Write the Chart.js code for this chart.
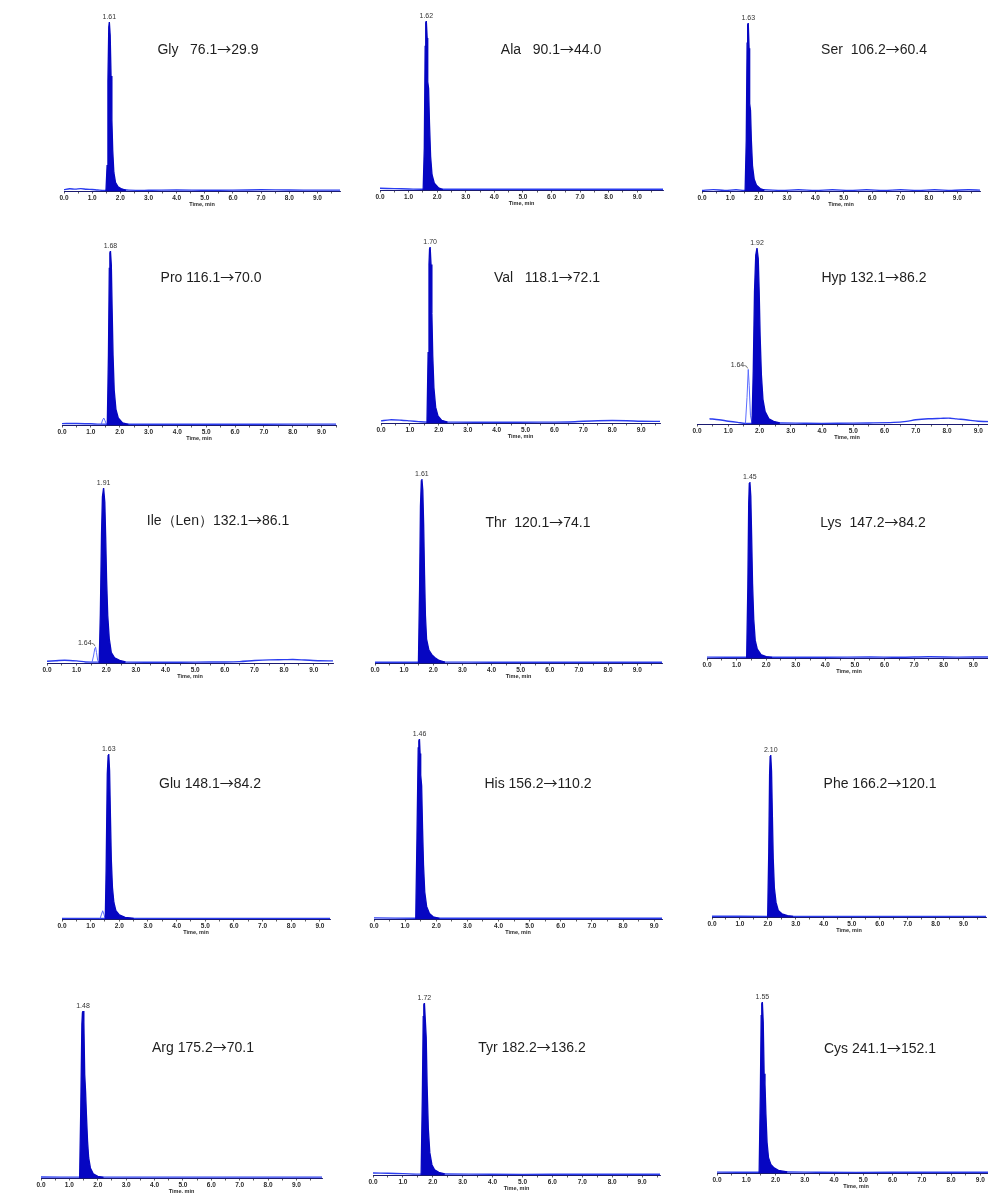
<!DOCTYPE html>
<html>
<head>
<meta charset="utf-8">
<script src="https://cdn.jsdelivr.net/npm/chart.js@4.4.1/dist/chart.umd.min.js"></script>
<style>
  html, body { margin: 0; padding: 0; background: #fff; overflow: hidden; width: 988px; height: 1193px; position: relative; }
  canvas { position: absolute; }
</style>
</head>
<body>
<script>
// ---- Data: MRM chromatograms of 15 amino acids (time in min, intensity in % of the main peak) ----
const tickLabels = ['0.0', '1.0', '2.0', '3.0', '4.0', '5.0', '6.0', '7.0', '8.0', '9.0'];
const compounds = ['Gly', 'Ala', 'Ser', 'Pro', 'Val', 'Hyp', 'Ile（Len）', 'Thr', 'Lys', 'Glu', 'His', 'Phe', 'Arg', 'Tyr', 'Cys'];
const precursorMz = [76.1, 90.1, 106.2, 116.1, 118.1, 132.1, 132.1, 120.1, 147.2, 148.1, 156.2, 166.2, 175.2, 182.2, 241.1];
const productMz = [29.9, 44.0, 60.4, 70.0, 72.1, 86.2, 86.1, 74.1, 84.2, 84.2, 110.2, 120.1, 70.1, 136.2, 152.1];
const retentionTimes = [1.61, 1.62, 1.63, 1.68, 1.70, 1.92, 1.91, 1.61, 1.45, 1.63, 1.46, 2.10, 1.48, 1.72, 1.55];
// labelled minor peaks (null = none labelled)
const minorPeakTimes = [null, null, null, null, null, 1.64, 1.64, null, null, null, null, null, null, null, null];

const GLY_PEAK = [[1.49,0],[1.53,15],[1.56,65],[1.59,97],[1.61,100],[1.64,92],[1.67,68],[1.70,42],[1.73,24],[1.77,11],[1.83,5],[1.92,2.5],[2.05,1.2],[2.20,0.4]];
const GLY_BASE = [[0,0.8],[0.2,1.3],[0.4,1.1],[0.6,1.4],[0.8,1.0],[1.0,0.9],[1.2,0.6],[1.5,0.4],[1.8,1.0],[2.0,0.9],[2.3,0.5],[3.0,0.4],[4.0,0.6],[5.0,0.4],[6.0,0.5],[7.0,0.7],[8.0,0.6],[9.0,0.5],[9.8,0.5]];

const ALA_PEAK = [[1.51,0],[1.55,25],[1.58,85],[1.60,99],[1.62,100],[1.65,90],[1.67,64],[1.70,60],[1.73,40],[1.77,20],[1.82,9],[1.90,4],[2.05,1.2],[2.20,0.3]];
const ALA_BASE = [[0,1.0],[0.5,0.8],[1.0,0.6],[1.5,0.4],[2.2,0.4],[4.0,0.4],[6.0,0.4],[8.0,0.4],[9.9,0.4]];

const SER_PEAK = [[1.52,0],[1.56,30],[1.59,88],[1.61,99],[1.63,100],[1.66,85],[1.68,52],[1.71,48],[1.74,30],[1.78,15],[1.84,7],[1.92,3.5],[2.05,1.5],[2.20,0.5]];
const SER_BASE = [[0,0.4],[0.4,0.8],[0.8,0.4],[1.2,0.7],[1.5,0.4],[2.2,0.7],[2.8,0.4],[3.4,0.7],[4.0,0.4],[4.6,0.7],[5.2,0.4],[5.8,0.7],[6.4,0.4],[7.0,0.7],[7.6,0.4],[8.2,0.7],[8.8,0.4],[9.4,0.7],[9.8,0.5]];

const PRO_PEAK = [[1.57,0],[1.61,40],[1.64,90],[1.66,99],[1.68,100],[1.71,92],[1.74,65],[1.77,40],[1.81,20],[1.87,9],[1.95,4],[2.10,1.2],[2.30,0.3]];
const PRO_MINOR = [[1.36,0.4],[1.41,3],[1.45,4],[1.49,2.5],[1.54,0.5]];
const PRO_BASE = [[0,0.8],[0.5,0.9],[1.0,0.7],[1.3,0.5],[2.3,0.4],[4.0,0.4],[6.0,0.4],[8.0,0.5],[9.5,0.5]];

const VAL_PEAK = [[1.59,0],[1.63,40],[1.66,90],[1.68,99],[1.70,100],[1.73,90],[1.76,62],[1.79,38],[1.83,20],[1.89,9],[1.97,4],[2.10,1.5],[2.30,0.5]];
const VAL_BASE = [[0,1.2],[0.3,1.8],[0.7,1.6],[1.0,1.2],[1.3,0.8],[1.6,0.5],[2.5,0.5],[4.0,0.4],[5.5,0.5],[6.5,0.6],[7.0,1.0],[7.5,1.3],[8.0,1.4],[8.5,1.3],[9.0,1.0],[9.65,0.9]];

const HYP_PEAK = [[1.76,0],[1.80,30],[1.84,75],[1.88,96],[1.92,100],[1.96,94],[1.99,75],[2.02,50],[2.06,28],[2.11,14],[2.18,7],[2.30,3],[2.45,1.5],[2.65,0.6]];
const HYP_MINOR = [[1.55,0.3],[1.60,15],[1.64,31],[1.67,22],[1.71,5],[1.76,0.6],[1.80,0.4]];
const HYP_BASE = [[0.4,3.0],[0.7,2.4],[1.0,1.6],[1.3,0.9],[1.55,0.3],[2.7,0.6],[3.5,0.4],[4.5,0.4],[5.5,0.6],[6.3,0.9],[6.7,1.5],[7.0,2.4],[7.4,3.0],[7.8,3.2],[8.1,3.3],[8.3,2.9],[8.6,2.4],[9.0,1.6],[9.6,1.3]];

const ILE_PEAK = [[1.76,0],[1.80,28],[1.84,74],[1.87,95],[1.91,100],[1.95,92],[1.98,72],[2.01,48],[2.05,27],[2.10,14],[2.17,6],[2.28,3],[2.45,1.5],[2.65,0.6]];
const ILE_MINOR = [[1.52,0.5],[1.57,4],[1.61,8],[1.64,9],[1.67,6],[1.71,1.5],[1.76,0.5]];
const ILE_BASE = [[0,1.0],[0.3,1.3],[0.6,1.6],[1.0,1.2],[1.3,0.6],[1.5,0.5],[2.65,0.5],[4.0,0.4],[5.0,0.5],[6.0,0.6],[6.5,0.8],[7.0,1.4],[7.5,1.8],[8.0,1.9],[8.3,2.0],[8.7,1.7],[9.2,1.3],[9.65,1.2]];

const THR_PEAK = [[1.49,0],[1.53,40],[1.56,85],[1.59,99],[1.61,100],[1.64,94],[1.67,75],[1.70,48],[1.73,26],[1.77,13],[1.85,7],[1.95,4.5],[2.05,3],[2.20,1.4],[2.40,0.5]];
const THR_BASE = [[0,0.4],[1.5,0.4],[2.4,0.5],[4.0,0.4],[6.0,0.4],[8.0,0.4],[9.9,0.4]];

const LYS_PEAK = [[1.34,0],[1.38,40],[1.41,88],[1.43,99],[1.45,100],[1.48,92],[1.51,68],[1.54,42],[1.58,22],[1.63,10],[1.70,5],[1.82,2],[2.00,0.8],[2.20,0.3]];
const LYS_BASE = [[0,0.5],[1.35,0.4],[2.2,0.4],[4.0,0.4],[5.5,0.6],[6.5,0.4],[7.5,0.7],[8.5,0.5],[9.6,0.6]];

const GLU_PEAK = [[1.51,0],[1.54,30],[1.58,88],[1.61,99],[1.63,100],[1.66,90],[1.69,62],[1.72,36],[1.76,19],[1.81,10],[1.88,5],[2.00,2.5],[2.20,1],[2.50,0.4]];
const GLU_MINOR = [[1.33,0.3],[1.38,3],[1.42,5],[1.46,3],[1.50,0.5]];
const GLU_BASE = [[0,0.4],[1.3,0.4],[2.5,0.4],[5.0,0.4],[9.35,0.4]];

const HIS_PEAK = [[1.34,0],[1.38,45],[1.42,95],[1.44,99],[1.46,100],[1.48,92],[1.50,80],[1.53,74],[1.56,50],[1.59,30],[1.63,15],[1.69,7],[1.78,3],[1.90,1.2],[2.10,0.4]];
const HIS_BASE = [[0,0.6],[1.35,0.4],[2.1,0.4],[5.0,0.4],[9.25,0.4]];

const PHE_PEAK = [[1.99,0],[2.03,40],[2.06,88],[2.08,99],[2.10,100],[2.13,90],[2.16,62],[2.19,36],[2.23,18],[2.29,9],[2.37,4],[2.50,2],[2.70,0.8],[2.90,0.3]];
const PHE_BASE = [[0,0.5],[2.0,0.4],[2.9,0.4],[6.0,0.4],[9.8,0.4]];

const ARG_PEAK = [[1.36,0],[1.40,40],[1.44,92],[1.46,99],[1.48,100],[1.51,93],[1.54,62],[1.57,52],[1.60,38],[1.64,22],[1.68,12],[1.74,6],[1.84,2.5],[2.00,1],[2.20,0.4]];
const ARG_BASE = [[0,0.6],[1.37,0.5],[2.2,0.5],[5.0,0.5],[9.9,0.5]];

const TYR_PEAK = [[1.61,0],[1.65,45],[1.68,92],[1.70,99],[1.72,100],[1.75,90],[1.78,80],[1.81,52],[1.85,27],[1.90,13],[1.97,6],[2.06,3],[2.20,1.5],[2.40,0.6]];
const TYR_BASE = [[0,1.2],[0.5,1.0],[1.0,0.8],[1.6,0.5],[2.4,0.6],[4.0,0.4],[6.0,0.4],[9.6,0.4]];

const CYS_PEAK = [[1.44,0],[1.48,45],[1.51,92],[1.53,99],[1.55,100],[1.58,88],[1.61,58],[1.64,52],[1.67,35],[1.71,18],[1.76,9],[1.84,5],[1.95,3],[2.10,1.5],[2.40,0.6]];
const CYS_BASE = [[0,0.5],[1.45,0.4],[2.4,0.6],[3.5,0.4],[6.0,0.4],[9.5,0.4]];

const peakTraces = [GLY_PEAK, ALA_PEAK, SER_PEAK, PRO_PEAK, VAL_PEAK, HYP_PEAK, ILE_PEAK, THR_PEAK, LYS_PEAK, GLU_PEAK, HIS_PEAK, PHE_PEAK, ARG_PEAK, TYR_PEAK, CYS_PEAK];
const baseTraces = [GLY_BASE, ALA_BASE, SER_BASE, PRO_BASE, VAL_BASE, HYP_BASE, ILE_BASE, THR_BASE, LYS_BASE, GLU_BASE, HIS_BASE, PHE_BASE, ARG_BASE, TYR_BASE, CYS_BASE];
const minorTraces = [null, null, null, PRO_MINOR, null, HYP_MINOR, ILE_MINOR, null, null, GLU_MINOR, null, null, null, null, null];

// ---- Layout of each panel on the page (pixels) ----
// x0: page x of t = 0, ppm: pixels per minute, xMax: axis end (min),
// axisY: page y of the time axis, topY: page y of the main peak apex,
// tx/ty: centre of the compound caption, gap: spaces between name and transition
const frames = [
  { x0: 64,  ppm: 28.2, xMax: 9.8,  axisY: 191,  topY: 22,   tx: 208, ty: 49,   gap: 3 },
  { x0: 380, ppm: 28.6, xMax: 9.9,  axisY: 190,  topY: 21,   tx: 551, ty: 49,   gap: 3 },
  { x0: 702, ppm: 28.4, xMax: 9.8,  axisY: 191,  topY: 23,   tx: 874, ty: 49,   gap: 2 },
  { x0: 62,  ppm: 28.8, xMax: 9.5,  axisY: 425,  topY: 251,  tx: 211, ty: 277,  gap: 1 },
  { x0: 381, ppm: 28.9, xMax: 9.65, axisY: 423,  topY: 247,  tx: 547, ty: 277,  gap: 3 },
  { x0: 697, ppm: 31.3, xMax: 9.6,  axisY: 424,  topY: 248,  tx: 874, ty: 277,  gap: 1 },
  { x0: 47,  ppm: 29.6, xMax: 9.65, axisY: 663,  topY: 488,  tx: 218, ty: 520,  gap: 0 },
  { x0: 375, ppm: 29.1, xMax: 9.85, axisY: 663,  topY: 479,  tx: 538, ty: 522,  gap: 2 },
  { x0: 707, ppm: 29.6, xMax: 9.6,  axisY: 658,  topY: 482,  tx: 873, ty: 522,  gap: 2 },
  { x0: 62,  ppm: 28.7, xMax: 9.35, axisY: 919,  topY: 754,  tx: 210, ty: 783,  gap: 1 },
  { x0: 374, ppm: 31.1, xMax: 9.25, axisY: 919,  topY: 739,  tx: 538, ty: 783,  gap: 1 },
  { x0: 712, ppm: 28.0, xMax: 9.8,  axisY: 917,  topY: 755,  tx: 880, ty: 783,  gap: 1 },
  { x0: 41,  ppm: 28.4, xMax: 9.9,  axisY: 1178, topY: 1011, tx: 203, ty: 1047, gap: 1 },
  { x0: 373, ppm: 29.9, xMax: 9.6,  axisY: 1175, topY: 1003, tx: 532, ty: 1047, gap: 1 },
  { x0: 717, ppm: 29.25,xMax: 9.5,  axisY: 1173, topY: 1002, tx: 880, ty: 1048, gap: 1 }
];

const PAD_L = 14, PAD_R = 3, PAD_T = 14, AXIS_H = 17;
const PEAK_BLUE = '#0606c2';
const TRACE_BLUE = '#2a3cf0';
const MINOR_BLUE = '#5a6cff';
const TEXT_FONT = '"Liberation Sans", Arial, sans-serif';
const CAPTION_FONT = '14px ' + TEXT_FONT;
const ARROW_FONT = '14px "Noto Sans CJK SC", "DejaVu Sans", sans-serif';

const toPoints = arr => arr.map(([x, y]) => ({ x, y }));

// Caption "<name> <precursor>→<product>", with the arrow set in a font that has a long thin arrow
function drawCaption(ctx, parts, cx, cy) {
  const fonts = [CAPTION_FONT, ARROW_FONT, CAPTION_FONT];
  const widths = parts.map((t, k) => { ctx.font = fonts[k]; return ctx.measureText(t).width; });
  let x = cx - widths.reduce((a, b) => a + b, 0) / 2;
  ctx.textAlign = 'left';
  ctx.textBaseline = 'alphabetic';
  parts.forEach((t, k) => {
    ctx.font = fonts[k];
    ctx.fillText(t, x, cy + 5);
    x += widths[k];
  });
}

// Draws the apex retention-time labels and the compound caption
const annotatePlugin = {
  id: 'annotate',
  afterDatasetsDraw(chart, args, opts) {
    const { ctx, scales: { x, y } } = chart;
    ctx.save();
    ctx.fillStyle = '#333';
    ctx.font = '7px ' + TEXT_FONT;
    ctx.textAlign = 'center';
    ctx.textBaseline = 'bottom';
    ctx.fillText(opts.rt.toFixed(2), x.getPixelForValue(opts.rt), y.getPixelForValue(100) - 1);

    if (opts.minorRt !== null && opts.minorTop !== null) {
      const px = x.getPixelForValue(opts.minorRt);
      const py = y.getPixelForValue(opts.minorTop);
      ctx.textAlign = 'right';
      ctx.textBaseline = 'middle';
      ctx.fillText(opts.minorRt.toFixed(2), px - 4, py - 4);
      ctx.strokeStyle = '#444';
      ctx.lineWidth = 0.7;
      ctx.beginPath();
      ctx.moveTo(px - 4, py - 4);
      ctx.quadraticCurveTo(px - 1.5, py - 4, px - 0.5, py - 1);
      ctx.stroke();
    }

    ctx.fillStyle = '#1e1e1e';
    drawCaption(ctx, opts.caption, opts.cx, opts.cy);
    ctx.restore();
  }
};

compounds.forEach((name, i) => {
  const f = frames[i];
  const left = f.x0 - PAD_L;
  const top = f.topY - PAD_T;
  const w = Math.round(PAD_L + f.xMax * f.ppm + PAD_R);
  const h = PAD_T + (f.axisY - f.topY) + AXIS_H;

  const canvas = document.createElement('canvas');
  canvas.width = w;
  canvas.height = h;
  canvas.style.left = left + 'px';
  canvas.style.top = top + 'px';
  canvas.style.width = w + 'px';
  canvas.style.height = h + 'px';
  document.body.appendChild(canvas);

  const datasets = [
    {
      data: toPoints(peakTraces[i]),
      borderColor: PEAK_BLUE,
      backgroundColor: PEAK_BLUE,
      borderWidth: 1.3,
      fill: 'origin',
      pointRadius: 0,
      tension: 0
    },
    {
      data: toPoints(baseTraces[i]),
      borderColor: TRACE_BLUE,
      borderWidth: 1.4,
      fill: false,
      pointRadius: 0,
      tension: 0.3
    }
  ];
  if (minorTraces[i]) {
    datasets.splice(1, 0, {
      data: toPoints(minorTraces[i]),
      borderColor: MINOR_BLUE,
      borderWidth: 1,
      fill: false,
      pointRadius: 0,
      tension: 0
    });
  }

  const minor = minorTraces[i];
  const minorTop = minor ? Math.max(...minor.map(p => p[1])) : null;
  const caption = [
    name + ' '.repeat(f.gap) + precursorMz[i].toFixed(1),
    '→',
    productMz[i].toFixed(1)
  ];

  new Chart(canvas, {
    type: 'line',
    data: { datasets },
    plugins: [annotatePlugin],
    options: {
      responsive: false,
      animation: false,
      devicePixelRatio: 1,
      layout: { padding: { left: PAD_L, right: PAD_R, top: PAD_T, bottom: 0 } },
      plugins: {
        legend: { display: false },
        tooltip: { enabled: false },
        annotate: {
          rt: retentionTimes[i],
          minorRt: minorPeakTimes[i],
          minorTop,
          caption,
          cx: f.tx - left,
          cy: f.ty - top
        }
      },
      scales: {
        x: {
          type: 'linear',
          min: 0,
          max: f.xMax,
          afterFit: scale => { scale.height = AXIS_H; },
          border: { display: true, color: '#1a1a70', width: 1 },
          grid: { display: true, drawOnChartArea: false, drawTicks: true, tickLength: 2.5, color: '#333', lineWidth: 0.8 },
          ticks: {
            stepSize: 0.5,
            autoSkip: false,
            maxRotation: 0,
            includeBounds: false,
            padding: 1,
            color: '#2a2a2a',
            font: { size: 6.5, weight: 'bold', family: TEXT_FONT },
            callback: v => {
              const k = Math.round(v);
              return Math.abs(v - k) < 1e-6 && tickLabels[k] !== undefined ? tickLabels[k] : '';
            }
          },
          title: {
            display: true,
            text: 'Time, min',
            color: '#2a2a2a',
            padding: { top: 0, bottom: 0 },
            font: { size: 5.5, weight: 'bold', family: TEXT_FONT }
          }
        },
        y: { display: false, min: 0, max: 100 }
      }
    }
  });
});
</script>
</body>
</html>
